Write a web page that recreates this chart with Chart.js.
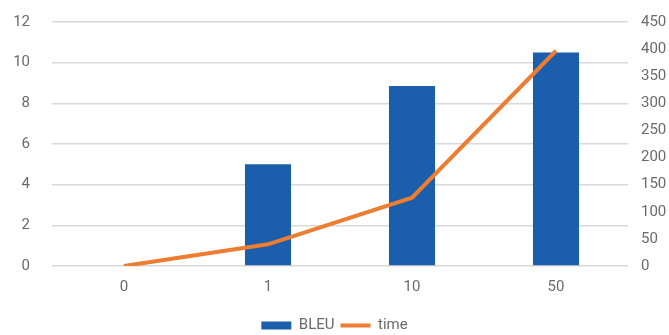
<!DOCTYPE html>
<html>
<head>
<meta charset="utf-8">
<script src="https://cdn.jsdelivr.net/npm/chart.js@4"></script>
<style>
  html, body { margin: 0; padding: 0; background: #fff; }
  #wrap { width: 669px; height: 335px; }
</style>
</head>
<body>
<div id="wrap"><canvas id="myChart"></canvas></div>
<script>
const categories = ["0", "1", "10", "50"]
const bleuValues = [0, 5, 8.85, 10.5]
const timeValues = [0, 40, 126, 397]

const textColor = "#6a6a6a"
const fontFamily = "'Liberation Sans Narrow', 'Roboto', sans-serif"

Chart.defaults.font.family = fontFamily
Chart.defaults.color = textColor

function fitVertical(width) {
    return (scale) => {
        scale.width = width
        scale.paddingTop = 0
        scale.paddingBottom = 0
    }
}

const chart = document.getElementById("myChart")
new Chart(chart, {
    type: "bar",
    data: {
        labels: categories,
        datasets: [{
            type: "line",
            label: "time",
            data: timeValues,
            yAxisID: "y1",
            borderColor: "#ED7D31",
            backgroundColor: "#ED7D31",
            borderWidth: 4,
            pointRadius: 0,
            tension: 0,
            order: 0
        }, {
            label: "BLEU",
            data: bleuValues,
            yAxisID: "y",
            backgroundColor: "#1B5EAB",
            categoryPercentage: 1,
            barPercentage: 0.32,
            order: 1
        }]
    },
    options: {
        responsive: true,
        maintainAspectRatio: false,
        animation: false,
        layout: { autoPadding: false, padding: { top: 22, left: 0, right: 0, bottom: -8 } },
        plugins: {
            tooltip: { enabled: false },
            legend: {
                position: "bottom",
                labels: {
                    font: { size: 15 },
                    color: textColor,
                    usePointStyle: true,
                    pointStyleWidth: 30,
                    boxHeight: 8,
                    padding: 6,
                    generateLabels: () => [
                        { text: "BLEU", fillStyle: "#1B5EAB", strokeStyle: "#1B5EAB", lineWidth: 0, pointStyle: "rect", datasetIndex: 1, fontColor: textColor },
                        { text: "time", fillStyle: "#ED7D31", strokeStyle: "#ED7D31", lineWidth: 4, pointStyle: "line", datasetIndex: 0, fontColor: textColor }
                    ]
                }
            }
        },
        scales: {
            x: {
                grid: { display: false },
                border: { display: false },
                ticks: { font: { size: 15 }, color: textColor, padding: 4 },
                afterFit: (scale) => { scale.height = 46 }
            },
            y: {
                position: "left",
                min: 0,
                max: 12,
                ticks: { stepSize: 2, font: { size: 15 }, color: textColor, padding: 22 },
                grid: { color: "#d9d9d9", lineWidth: 1.5, drawTicks: false },
                border: { display: false },
                afterFit: fitVertical(52)
            },
            y1: {
                position: "right",
                min: 0,
                max: 450,
                ticks: { stepSize: 50, font: { size: 15 }, color: textColor, padding: 5 },
                grid: { display: false },
                border: { display: false },
                afterFit: fitVertical(41)
            }
        }
    }
})
</script>
</body>
</html>
